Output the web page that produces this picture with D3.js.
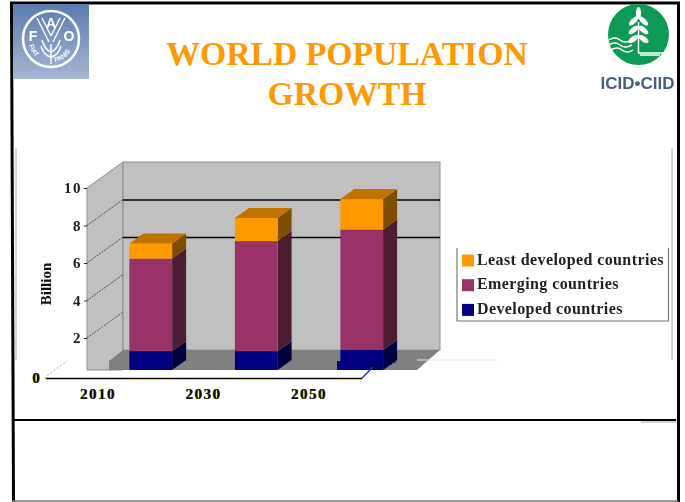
<!DOCTYPE html>
<html>
<head>
<meta charset="utf-8">
<script src="https://cdn.jsdelivr.net/npm/d3@7"></script>
<style>
html, body { margin: 0; padding: 0; background: #fff; }
svg { display: block; }
text { font-family: "Liberation Serif", serif; }
.yr text, text.yr { text-shadow: -0.6px 0 #d8c800, 0.6px 0 #2030c0; }
</style>
</head>
<body>
<div id="chart"></div>
<script>
// data (billion)
const years = ["2010", "2030", "2050"];
const developed = [1.3, 1.3, 1.36];
const emerging = [4.94, 5.87, 6.43];
const leastDeveloped = [0.8, 1.23, 1.62];
const seriesNames = ["Developed countries", "Emerging countries", "Least developed countries"];
const frontColors = ["#000080", "#993366", "#ff9900"];
const sideColors = ["#000040", "#4c1a33", "#7f4d00"];
const topColors = ["#000060", "#732650", "#c07300"];
const yTicks = [2, 4, 6, 8, 10];

const w = 685, h = 502;
const depthX = 36, depthY = -26;      // wall depth
const barDx = 14, barDy = -10;        // bar depth
const floorY = 370;

const svg = d3.select("#chart").append("svg").attr("width", w).attr("height", h);
const defs = svg.append("defs");
const grad = defs.append("linearGradient").attr("id", "faoBg").attr("x2", 0).attr("y2", 1);
grad.append("stop").attr("offset", 0).attr("stop-color", "#5b7cb0");
grad.append("stop").attr("offset", 1).attr("stop-color", "#a6b6d4");
defs.append("filter").attr("id", "soft").append("feGaussianBlur").attr("stdDeviation", 0.45);
defs.append("path").attr("id", "arcFiat").attr("d", "M29 45 A23 23 0 0 0 47 62");
defs.append("path").attr("id", "arcPanis").attr("d", "M55 62 A23 23 0 0 0 73 45");

// slide frame
const frame = svg.append("g");
[[10, 3, 680, 3, 3, "#000"], [11.5, 2, 13.5, 502, 3, "#000"], [678.5, 2, 678.5, 502, 3, "#000"],
 [14, 420, 676, 420, 2, "#000"], [641, 422, 676, 422, 1, "#aaa"], [12, 501, 678, 501, 1.5, "#777"]].forEach(l => {
  frame.append("line").attr("x1", l[0]).attr("y1", l[1]).attr("x2", l[2]).attr("y2", l[3])
    .attr("stroke", l[5]).attr("stroke-width", l[4]);
});
[16, 672].forEach(x => {
  frame.append("line").attr("x1", x).attr("y1", 148).attr("x2", x).attr("y2", 360)
    .attr("stroke", "#aaa").attr("stroke-width", 1);
});

// title
const title = svg.append("text").attr("text-anchor", "middle").attr("fill", "#ff9900")
  .attr("font-weight", "bold").attr("font-size", 33.7);
title.append("tspan").attr("x", 347).attr("y", 65).text("WORLD POPULATION");
title.append("tspan").attr("x", 347).attr("y", 105).text("GROWTH");

// FAO logo
const fao = svg.append("g").attr("filter", "url(#soft)");
fao.append("rect").attr("x", 13).attr("y", 4).attr("width", 76).attr("height", 75).attr("fill", "url(#faoBg)");
fao.append("circle").attr("cx", 51).attr("cy", 39).attr("r", 28).attr("fill", "none").attr("stroke", "#fff").attr("stroke-width", 2.5);
fao.selectAll(".ltr").data([["F", 33, 41], ["A", 51, 28], ["O", 69, 41]]).join("text")
  .attr("x", d => d[1]).attr("y", d => d[2]).attr("text-anchor", "middle")
  .style("font-family", "Liberation Sans").attr("font-weight", "bold").attr("font-size", 14).attr("fill", "#fff")
  .text(d => d[0]);
fao.append("path").attr("d", "M37 18 L49 42 M42 18 L51 36 M65 18 L53 42 M60 18 L51 36 M42 40 Q45 50 51 52 Q57 50 60 40 M41 46 Q44 56 51 57 Q58 56 61 46 M51 44 V64")
  .attr("fill", "none").attr("stroke", "#fff").attr("stroke-width", 1.4);
[["#arcFiat", "FIAT"], ["#arcPanis", "PANIS"]].forEach(t => {
  fao.append("text").style("font-family", "Liberation Sans").attr("font-size", 6.5).attr("font-weight", "bold").attr("fill", "#fff")
    .append("textPath").attr("href", t[0]).text(t[1]);
});

// ICID logo
const icid = svg.append("g").attr("filter", "url(#soft)");
icid.append("circle").attr("cx", 638.5).attr("cy", 34.5).attr("r", 30.5).attr("fill", "#0b9a55");
const grains = [[-20, 12, 0], [-12, 5, -45], [-12, 5, 45], [-3, 5, -50], [-3, 5, 50], [6, 5, -55], [6, 5, 55]];
icid.selectAll(".grain").data(grains).join("ellipse")
  .attr("rx", 2.6).attr("ry", 6)
  .attr("transform", d => `translate(${638.5 + d[1] * Math.sign(d[2])},${33 + d[0]}) rotate(${-d[2]})`)
  .attr("fill", "#fff");
icid.append("path").attr("d", "M638.5 22 V53 H665 M640 55 H660")
  .attr("fill", "none").attr("stroke", "#fff").attr("stroke-width", 1.5);
icid.append("path").attr("d", "M609 40 q6 -4 11 0 t12 0 M609 45 q6 -4 11 0 t12 0 M611 50 q6 -4 11 0 t11 0")
  .attr("fill", "none").attr("stroke", "#fff").attr("stroke-width", 1.5);
icid.append("text").attr("x", 637.5).attr("y", 89).attr("text-anchor", "middle").style("font-family", "Liberation Sans")
  .attr("font-weight", "bold").attr("font-size", 17).attr("fill", "#4a5f80").text("ICID\u2022CIID");

// scales
const y = d3.scaleLinear().domain([0, 10]).range([375.5, 188]);
const xLabels = d3.scaleBand().domain(years).range([45.25, 361.75]);
const xBars = d3.scaleBand().domain(years).range([98, 414.5]).paddingInner(0.595).paddingOuter(0.2975);

// walls and floor
const wallX = 87, backRight = 440, backTop = y(10) + depthY;
const chart = svg.append("g").attr("filter", "url(#soft)");
chart.append("polygon").attr("fill", "#c0c0c0").attr("stroke", "#909090")
  .attr("points", [[wallX, floorY], [wallX, y(10)], [wallX + depthX, backTop], [wallX + depthX, floorY]].join(" "));
chart.append("rect").attr("x", wallX + depthX).attr("y", backTop).attr("width", backRight - wallX - depthX)
  .attr("height", 350 - backTop).attr("fill", "#c0c0c0").attr("stroke", "#909090");
chart.append("polygon").attr("fill", "#808080")
  .attr("points", [[109, floorY], [109, 361], [123, 350], [backRight, 350], [417, floorY]].join(" "));
chart.append("line").attr("x1", 417).attr("y1", 360).attr("x2", 499).attr("y2", 360).attr("stroke", "#e8e8e8");

// gridlines: only 6 and 8 run over the back wall, all of them on the side wall
chart.selectAll(".diag").data(yTicks.slice(0, 4)).join("line")
  .attr("x1", wallX).attr("y1", d => y(d))
  .attr("x2", wallX + depthX).attr("y2", d => y(d) + depthY)
  .attr("stroke", "#333").attr("stroke-dasharray", "2 1").attr("stroke-width", 0.8);
chart.selectAll(".grid").data([6, 8]).join("line")
  .attr("x1", wallX + depthX).attr("x2", backRight)
  .attr("y1", d => y(d) + depthY + 0.5).attr("y2", d => y(d) + depthY + 0.5)
  .attr("stroke", "#000").attr("stroke-width", 1.5);

// stacked bars
const stack = years.map((yr, i) => {
  let sum = 0;
  return [developed[i], emerging[i], leastDeveloped[i]].map((v, s) => {
    const seg = { yr, s, y0: sum, y1: sum + v };
    sum += v;
    return seg;
  });
});
const barG = chart.selectAll(".bar").data(stack).join("g").attr("class", "bar");
const bottom = d => Math.min(y(d.y0), floorY);
barG.selectAll(".side").data(d => d).join("polygon")
  .attr("fill", d => sideColors[d.s])
  .attr("points", d => {
    const x = xBars(d.yr) + xBars.bandwidth();
    return [[x, bottom(d)], [x, y(d.y1)], [x + barDx, y(d.y1) + barDy], [x + barDx, bottom(d) + barDy]].join(" ");
  });
barG.selectAll(".front").data(d => d).join("rect")
  .attr("x", d => xBars(d.yr)).attr("width", xBars.bandwidth())
  .attr("y", d => y(d.y1)).attr("height", d => bottom(d) - y(d.y1))
  .attr("fill", d => frontColors[d.s]);
barG.append("polygon")
  .attr("fill", topColors[2])
  .attr("points", d => {
    const x = xBars(d[2].yr), t = y(d[2].y1), b = xBars.bandwidth();
    return [[x, t], [x + barDx, t + barDy], [x + b + barDx, t + barDy], [x + b, t]].join(" ");
  });

// rendering scraps in the original around the last bar
chart.append("path").attr("d", "M337 361 H341 V370 H337 Z").attr("fill", "#000080");
chart.append("path").attr("d", "M368 366 H388 M372 364 H392 M380 362 H396").attr("stroke", "#000050").attr("stroke-width", 1).attr("fill", "none");
chart.append("line").attr("x1", 362).attr("y1", 378).attr("x2", 373).attr("y2", 367).attr("stroke", "#2030c0").attr("stroke-width", 1.4);

// axes
const yAxis = chart.append("g").attr("transform", `translate(${wallX},0)`)
  .call(d3.axisLeft(y).tickValues(yTicks).tickSize(3).tickPadding(2));
yAxis.select(".domain").remove();
yAxis.selectAll("text").attr("font-weight", "bold").attr("font-size", 15).attr("letter-spacing", 1.5).attr("fill", "#222");
yAxis.selectAll("line").attr("stroke", "#222");

const xAxis = chart.append("g").attr("class", "yr").attr("transform", "translate(0,378)")
  .call(d3.axisBottom(xLabels).tickSize(0).tickPadding(10));
xAxis.select(".domain").attr("stroke", "#111").attr("stroke-width", 1.5);
xAxis.selectAll("text").attr("font-weight", "bold").attr("font-size", 15).attr("letter-spacing", 1.5).attr("fill", "#111");

chart.append("text").attr("class", "yr").attr("x", 36).attr("y", 383).attr("text-anchor", "middle")
  .attr("font-weight", "bold").attr("font-size", 15).attr("fill", "#111").text("0");
chart.append("line").attr("x1", 44).attr("y1", 378).attr("x2", 67).attr("y2", 361).attr("stroke", "#aab").attr("stroke-dasharray", "2 2");

chart.append("text").attr("transform", "translate(51,284) rotate(-90)").attr("text-anchor", "middle")
  .attr("font-weight", "bold").attr("font-size", 15).attr("fill", "#111").text("Billion");

// legend
const lg = chart.append("g");
lg.append("path").attr("d", "M457 248 V321 H668.5 V248").attr("fill", "none").attr("stroke", "#777").attr("stroke-width", 1.2);
const legendRows = lg.selectAll("g").data([2, 1, 0]).join("g")
  .attr("transform", (d, i) => `translate(462,${260.5 + i * 24.7})`);
legendRows.append("rect").attr("y", -6).attr("width", 12).attr("height", 12).attr("fill", d => frontColors[d]);
legendRows.append("text").attr("x", 15).attr("y", 4).attr("font-weight", "bold").attr("font-size", 16)
  .attr("letter-spacing", 0.4).attr("fill", "#222").text(d => seriesNames[d]);
</script>
</body>
</html>
